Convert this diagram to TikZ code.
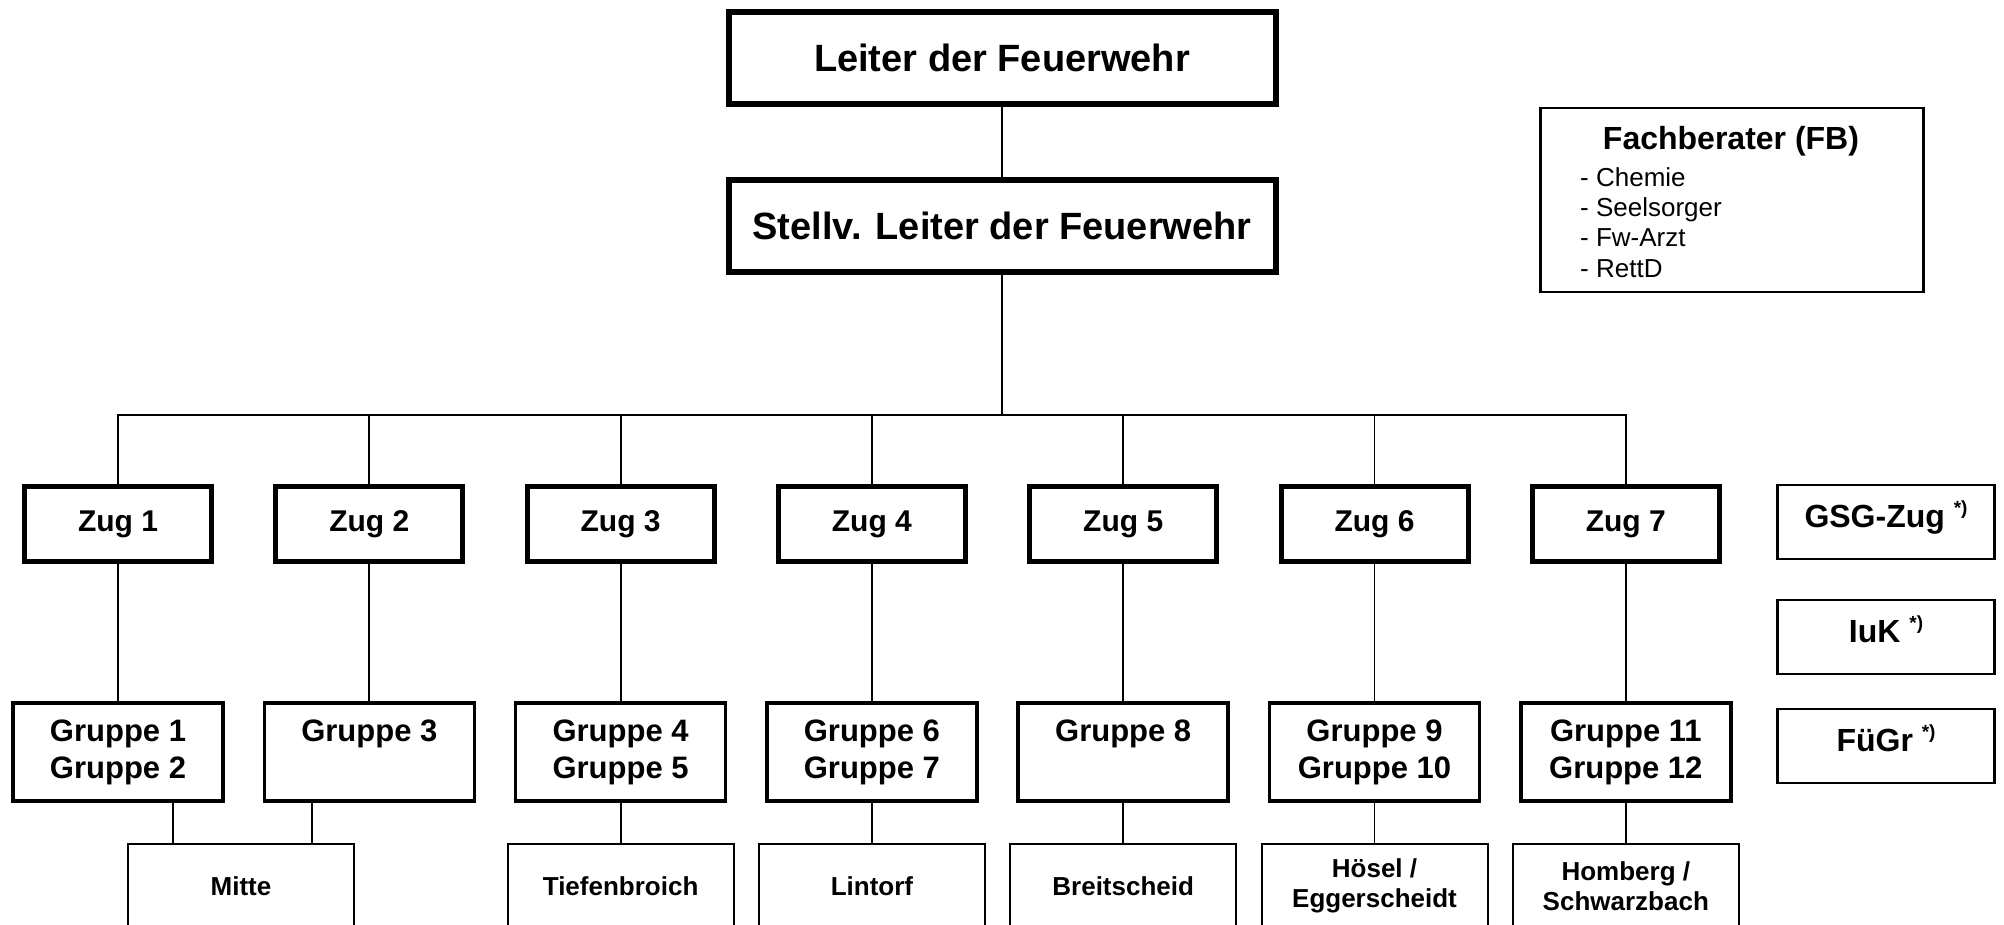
\documentclass[tikz,border=0pt]{standalone}
\usepackage{fontspec}
\setmainfont{Liberation Sans}
\newcommand{\fnmark}{\raisebox{13pt}{\fontsize{19}{19}\selectfont *)}}
\tikzset{
  chief/.style={draw,line width=6pt,minimum width=547pt,minimum height=92pt,font=\fontsize{38}{44}\selectfont\bfseries},
  zugbox/.style={draw,line width=5pt,minimum width=187pt,minimum height=75pt,font=\fontsize{30}{36}\selectfont\bfseries},
  gruppebox/.style={draw,line width=3.5pt,minimum width=210pt,minimum height=98pt,align=center,font=\fontsize{31}{37}\selectfont\bfseries},
  gruppeone/.style={text depth=43pt},
  ortbox/.style={draw,line width=2pt,minimum width=226pt,minimum height=84pt,align=center,font=\fontsize{26}{30}\selectfont\bfseries},
  sonderbox/.style={draw,line width=2.7pt,minimum width=217pt,minimum height=74pt,text height=23pt,text depth=13pt,font=\fontsize{32}{38}\selectfont\bfseries},
  fbitem/.style={inner sep=0pt,font=\fontsize{26}{30}\selectfont},
  link/.style={line width=1.8pt},
}
\begin{document}
\begin{tikzpicture}[x=1pt,y=-1pt]
\path[use as bounding box] (0,0) rectangle (2004,925);
\clip (0,0) rectangle (2004,925);
\node[chief] (leiter) at (1002,58) {Leiter der Feuerwehr};
\node[chief] (stellv) at (1002,226) {Stellv. Leiter der Feuerwehr};
\draw[link] (leiter) -- (stellv);
\coordinate (bus) at (1002,415);
\draw[link] (stellv) -- (bus);
\foreach \i in {1,...,7}{%
    \node[zugbox] (zug\i) at ({118+251.3*(\i-1)},524) {Zug \i};
    \draw[link] (zug\i) |- (bus);
}
\node[gruppebox] (gr1) at (zug1 |- 0,752) {Gruppe 1\\Gruppe 2};
\node[gruppebox,gruppeone] (gr2) at (zug2 |- 0,752) {Gruppe 3};
\node[gruppebox] (gr3) at (zug3 |- 0,752) {Gruppe 4\\Gruppe 5};
\node[gruppebox] (gr4) at (zug4 |- 0,752) {Gruppe 6\\Gruppe 7};
\node[gruppebox,gruppeone] (gr5) at (zug5 |- 0,752) {Gruppe 8};
\node[gruppebox] (gr6) at (zug6 |- 0,752) {Gruppe 9\\Gruppe 10};
\node[gruppebox] (gr7) at (zug7 |- 0,752) {Gruppe 11\\Gruppe 12};
\foreach \i in {1,...,7}{%
    \draw[link] (zug\i) -- (gr\i);
}
\node[ortbox] (mitte) at (241,886) {Mitte};
\node[ortbox] (tiefenbroich) at (gr3 |- mitte) {Tiefenbroich};
\node[ortbox] (lintorf) at (gr4 |- mitte) {Lintorf};
\node[ortbox] (breitscheid) at (gr5 |- mitte) {Breitscheid};
\node[ortbox] (hoesel) at (gr6 |- mitte) {Hösel /\\Eggerscheidt};
\node[ortbox] (homberg) at (gr7 |- mitte) {Homberg /\\Schwarzbach};
\draw[link] ([xshift=55pt]gr1.south) -- ([xshift=55pt]gr1.south |- mitte.north);
\draw[link] ([xshift=-57pt]gr2.south) -- ([xshift=-57pt]gr2.south |- mitte.north);
\draw[link] (gr3) -- (tiefenbroich);
\draw[link] (gr4) -- (lintorf);
\draw[link] (gr5) -- (breitscheid);
\draw[link] (gr6) -- (hoesel);
\draw[link] (gr7) -- (homberg);
\node[sonderbox] (gsg) at (1886,522) {GSG-Zug \fnmark};
\node[sonderbox] (iuk) at (1886,637) {IuK \fnmark};
\node[sonderbox] (fuegr) at (1886,746) {FüGr \fnmark};
\node[draw,line width=2.5pt,minimum width=383pt,minimum height=184pt] (fb) at (1732,200) {};
\node[font=\fontsize{32}{38}\selectfont\bfseries] (fbtitle) at (1731,141) {Fachberater (FB)};
\foreach \ber [count=\k] in {Chemie,Seelsorger,Fw-Arzt,RettD}{%
    \node[fbitem,anchor=base west] (fbitem\k) at (1580,157+30*\k) {- \ber};
}
\end{tikzpicture}
\end{document}
